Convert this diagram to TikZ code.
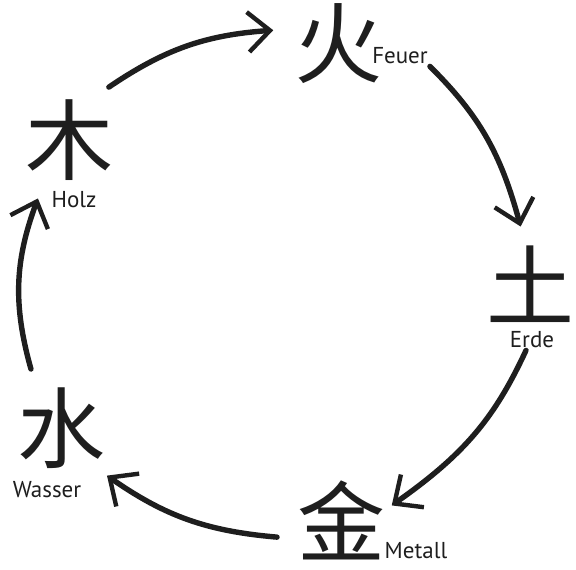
\documentclass[tikz,border=0pt]{standalone}
\usepackage{fontspec}
\usepackage{tikz}
\usetikzlibrary{arrows.meta}
\setmainfont{PT Sans}
\newfontfamily\cjkfont{Noto Sans CJK SC}
\definecolor{cink}{HTML}{1E1E1E}
\tikzset{>={Straight Barb[length=22pt,width=40pt,line width=4.4pt]},
  elem/.style={circle,minimum size=132pt,inner sep=0pt,text=cink,font=\cjkfont\fontsize{88}{88}\selectfont},
  lbl/.style={text=cink,inner sep=2pt,font=\fontsize{23}{23}\selectfont},
  flow/.style={->,cink,line width=5.4pt,line cap=round}}

\begin{document}
\begin{tikzpicture}[x=1pt,y=1pt]
\useasboundingbox (0,0) rectangle (576,570);

% ============ the five elements ============
\node[elem] (feuer)  at (338,526) {火};
\node[elem] (erde)   at (530,286) {土};
\node[elem] (metall) at (341,50)  {金};
\node[elem] (wasser) at (61,142)  {水};
\node[elem] (holz)   at (69,430)  {木};

% ============ names ============
\node[lbl] (feuerlbl)  at (400,514) {Feuer};
\node[lbl] (erdelbl)   at (532,230) {Erde};
\node[lbl] (metalllbl) at (416,19)  {Metall};
\node[lbl] (wasserlbl) at (47,80)   {Wasser};
\node[lbl] (holzlbl)   at (74,370)  {Holz};

% ============ cycle ============
\draw[flow] (holz.53) to[bend left=15] (feuer.168);
\draw[flow,shorten >=-8pt] (feuerlbl.south east) to[bend left=15] (erde.100);
\draw[flow,shorten >=-14pt] (erdelbl.240) to[bend left=15] (metall.20);
\draw[flow] (metall.195) to[bend left=15] (wasser.-46);
\draw[flow] (wasser.117) to[bend left=18] (holz.-118);

\end{tikzpicture}
\end{document}
